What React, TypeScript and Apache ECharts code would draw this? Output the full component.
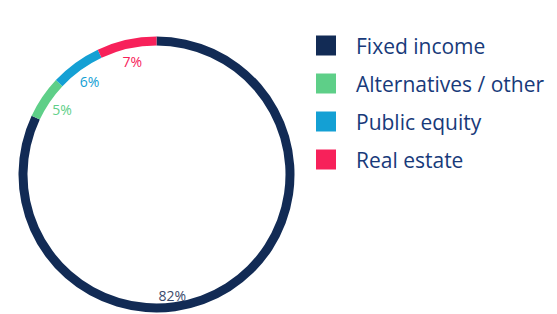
import React, { useEffect, useRef } from "react";
import * as echarts from "echarts";

const categories = ["Fixed income", "Alternatives / other", "Public equity", "Real estate"];
const values = [82, 5, 6, 7];
const colors = ["#122b55", "#5ecf88", "#14a0d4", "#f7215a"];
const labelColors = ["#3b4a6b", "#5ecf88", "#14a0d4", "#f7215a"];

export default function App() {
  const ref = useRef<HTMLDivElement>(null);
  useEffect(() => {
    if (!ref.current) return;
    const chart = echarts.init(ref.current, null, { renderer: "svg" });
    const font = "Open Sans";
    const ringData = categories.map((name, i) => ({
      name,
      value: values[i],
      itemStyle: { color: colors[i] },
    }));
    const labelData = categories.map((name, i) => ({
      name,
      value: values[i],
      itemStyle: { color: "rgba(0,0,0,0)" },
      label: {
        color: labelColors[i],
        offset: i === 0 ? [-47, 23] : [0, 0],
      },
    }));
    chart.setOption({
      animation: false,
      legend: {
        orient: "vertical",
        left: 316,
        top: 35,
        padding: 0,
        itemWidth: 20,
        itemHeight: 20,
        itemGap: 17,
        icon: "rect",
        data: categories,
        textStyle: {
          fontFamily: font,
          fontSize: 21,
          lineHeight: 20,
          color: "#183a7a",
          padding: [0, 0, 0, 15],
        },
      },
      series: [
        {
          type: "pie",
          center: [156.5, 174.5],
          radius: [129, 138],
          startAngle: 90,
          clockwise: true,
          avoidLabelOverlap: false,
          label: { show: false },
          labelLine: { show: false },
          itemStyle: { borderWidth: 0 },
          emphasis: { disabled: true },
          data: ringData,
        },
        {
          type: "pie",
          center: [157.5, 174.5],
          radius: [0, 225],
          startAngle: 90,
          clockwise: true,
          silent: true,
          avoidLabelOverlap: false,
          itemStyle: { borderWidth: 0 },
          emphasis: { disabled: true },
          label: {
            show: true,
            position: "inside",
            formatter: "{c}%",
            fontFamily: font,
            fontSize: 14,
          },
          labelLine: { show: false },
          data: labelData,
        },
      ],
    });
    return () => chart.dispose();
  }, []);
  return (
    <div
      ref={ref}
      style={{ position: "fixed", left: 0, top: 0, width: 557, height: 314, background: "#fff" }}
    />
  );
}
